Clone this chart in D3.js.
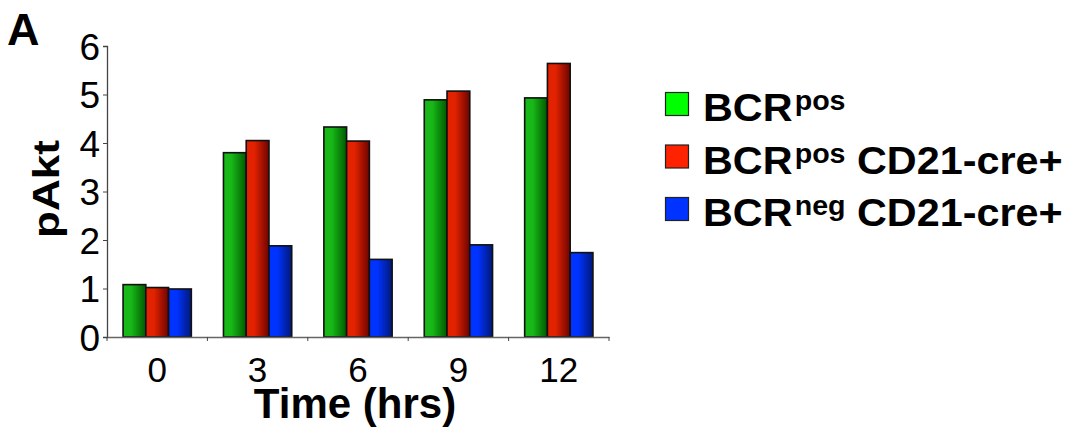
<!DOCTYPE html>
<html><head><meta charset="utf-8">
<script src="https://cdn.jsdelivr.net/npm/d3@7"></script>
<style>html,body{margin:0;padding:0;background:#fff;}svg{display:block;font-family:"Liberation Sans",Arial,sans-serif;}</style>
</head><body>
<svg id="c" width="1070" height="431"></svg>
<script>
const categories = ["0","3","6","9","12"];
const seriesNames = ["BCRpos","BCRpos CD21-cre+","BCRneg CD21-cre+"];
const bcrPos = [1.08, 3.80, 4.33, 4.89, 4.93];
const bcrPosCre = [1.02, 4.05, 4.04, 5.07, 5.64];
const bcrNegCre = [0.99, 1.88, 1.60, 1.90, 1.74];
const yTicks = [0,1,2,3,4,5,6];
const legendMain = ["BCR","BCR","BCR"];
const legendSup = ["pos","pos","neg"];
const legendRest = [""," CD21-cre+"," CD21-cre+"];

(function(){
const values = [bcrPos, bcrPosCre, bcrNegCre];
const gradStops = [["#18b818","#005a00"],["#e22200","#6e0400"],["#0033ff","#001878"]];
const legendFill = ["#00ff00","#ff2200","#0033ff"];

const svg = d3.select("#c");
const defs = svg.append("defs");
gradStops.forEach((g,i)=>{
  const lg = defs.append("linearGradient").attr("id","g"+i).attr("x1","0%").attr("x2","100%").attr("y1","0%").attr("y2","0%");
  lg.append("stop").attr("offset","0%").attr("stop-color",g[0]);
  lg.append("stop").attr("offset","35%").attr("stop-color",g[0]);
  lg.append("stop").attr("offset","100%").attr("stop-color",g[1]);
});

const pL=107, pR=609, pT=46, pB=337;
const x0 = d3.scaleBand().domain(categories).range([pL,pR]);
const bw = x0.bandwidth();
const x1 = d3.scaleBand().domain(seriesNames).range([0.16*bw, 0.84*bw]);
const y = d3.scaleLinear().domain([0,6]).range([pB,pT]);

// bars
categories.forEach((c,ci)=>{
  seriesNames.forEach((s,si)=>{
    svg.append("rect")
      .attr("x", x0(c)+x1(s))
      .attr("y", y(values[si][ci]))
      .attr("width", x1.bandwidth())
      .attr("height", y(0)-y(values[si][ci]))
      .attr("fill","url(#g"+si+")")
      .attr("stroke","#111").attr("stroke-width",1.6);
  });
});

// y axis
const ya = svg.append("g").attr("transform",`translate(${pL},0)`)
  .call(d3.axisLeft(y).tickValues(yTicks).tickSize(4).tickPadding(3).tickFormat(d3.format("d")));
ya.select(".domain").attr("stroke","#444").attr("stroke-width",1.3);
ya.selectAll(".tick line").attr("stroke","#444");
ya.selectAll("text").attr("font-size",37).attr("fill","#000").attr("font-family","Liberation Sans, Arial").attr("dy","0.36em");

// x axis
const xa = svg.append("g").attr("transform",`translate(0,${pB})`)
  .call(d3.axisBottom(x0).tickSize(0).tickPadding(20));
xa.select(".domain").attr("stroke","#666").attr("stroke-width",1.3);
xa.selectAll("text").attr("font-size",35).attr("fill","#000").attr("font-family","Liberation Sans, Arial");
const bounds = categories.map(c=>x0(c)).concat([x0(categories[categories.length-1])+bw]);
xa.selectAll(".bt").data(bounds).enter().append("line").attr("class","bt")
  .attr("x1",d=>d).attr("x2",d=>d).attr("y1",0).attr("y2",4).attr("stroke","#444");

// axis titles
svg.append("text").attr("x",355).attr("y",418).attr("text-anchor","middle")
  .attr("font-size",42).attr("font-weight","bold").text("Time (hrs)");
svg.append("text").attr("transform",`translate(59,189) rotate(-90) scale(1.19,1)`).attr("text-anchor","middle")
  .attr("font-size",37).attr("font-weight","bold").text("pAkt");
svg.append("text").attr("x",7).attr("y",45).attr("font-size",45).attr("font-weight","bold").text("A");

// legend
const lgd = svg.append("g");
seriesNames.forEach((s,i)=>{
  const yy = 121 + i*52.5;
  lgd.append("rect").attr("x",665.5).attr("y",yy-28.5).attr("width",23).attr("height",23)
    .attr("fill",legendFill[i]).attr("stroke","#222").attr("stroke-width",1.2);
  const t = lgd.append("text").attr("transform",`translate(703,${yy}) scale(1.06,1)`).attr("font-size",39).attr("font-weight","bold");
  t.append("tspan").text(legendMain[i]);
  t.append("tspan").attr("font-size",27).attr("dy",-11).attr("dx",2).text(legendSup[i]);
  if(legendRest[i]) t.append("tspan").attr("dy",11).attr("font-size",39).text(legendRest[i]);
});
})();
</script>
</body></html>
